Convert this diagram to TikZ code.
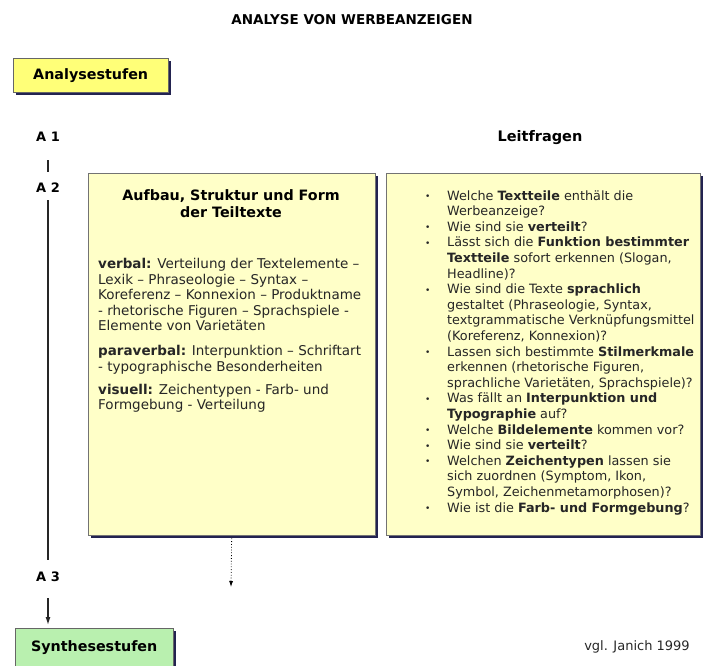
\documentclass[tikz,border=0pt]{standalone}
\usepackage{fontspec}
\setmainfont{DejaVu Sans}
\usetikzlibrary{arrows.meta,positioning,shadows}

\definecolor{stufegelb}{RGB}{255,255,120}
\definecolor{feldgelb}{RGB}{255,255,200}
\definecolor{stufegruen}{RGB}{185,240,175}
\definecolor{schatten}{RGB}{35,35,80}
\newcommand{\punkt}{\raisebox{0.6pt}{\fontsize{9}{9}\selectfont\textbullet}}

\begin{document}
\begin{tikzpicture}[x=1pt, y=-1pt, font=\fontsize{12.8}{15.6}\selectfont,
  stufe/.style={draw=black!60, anchor=north west, inner sep=0pt, font=\bfseries\fontsize{14.3}{16}\selectfont,
    drop shadow={shadow xshift=2.5pt, shadow yshift=-2.5pt, fill=schatten, opacity=1}},
  feld/.style={draw=black!55, fill=feldgelb, anchor=north west, inner sep=0pt,
    drop shadow={shadow xshift=2.5pt, shadow yshift=-2.5pt, fill=schatten, opacity=1}},
  marke/.style={font=\bfseries\fontsize{13}{15}\selectfont},
  linie/.style={line width=1.4pt, draw=black!85},
  pfeil/.style={-{Latex[length=8pt, width=5pt]}, line width=1.2pt, draw=black!85}]
  \useasboundingbox (0,0) rectangle (704,666);
  \node[font=\bfseries\fontsize{13.5}{15}\selectfont] (titel) at (352,20) {ANALYSE VON WERBEANZEIGEN};
  \node[stufe, fill=stufegelb, minimum width=155pt, minimum height=34pt] (analyse) at (13,58) {Analysestufen};
  \node[marke] (aeins) at (48,137) {A 1};
  \node[marke] (azwei) at (48,188) {A 2};
  \node[marke] (adrei) at (48,577) {A 3};
  \node[stufe, fill=stufegruen, minimum width=158pt, minimum height=38pt] (synthese) at (15,628) {Synthesestufen};
  \draw[linie, shorten <=15pt, shorten >=8pt] (aeins) -- (azwei);
  \draw[linie, line width=1.2pt, shorten <=4pt, shorten >=9pt] (azwei) -- (adrei);
  \draw[pfeil, shorten <=13pt, shorten >=3pt] (adrei) -- (adrei |- synthese.north);
  % Teiltexte
  \node[feld, minimum width=287pt, minimum height=362pt] (aufbau) at (88,173) {};
  \node[anchor=north, align=center, font=\bfseries\fontsize{14.3}{17.5}\selectfont] (aufbautitel) at (231,186) {Aufbau, Struktur und Form\\der Teiltexte};
  \node[anchor=north west, align=left, inner sep=0pt, text=black!85, font=\fontsize{13.5}{15.6}\selectfont] (aufbautext) at (98,258) {%
    \textbf{verbal:} Verteilung der Textelemente –\\
    Lexik – Phraseologie – Syntax –\\
    Koreferenz – Konnexion – Produktname\\
    - rhetorische Figuren – Sprachspiele -\\
    Elemente von Varietäten\\[9pt]
    \textbf{paraverbal:} Interpunktion – Schriftart\\
    - typographische Besonderheiten\\[7.5pt]
    \textbf{visuell:} Zeichentypen - Farb- und\\
    Formgebung - Verteilung};
  \coordinate (punktende) at (231,587);
  \draw[dotted, thick, -{Latex[length=6pt, width=4pt]}, shorten <=3pt] (aufbau.south) -- (punktende);
  % Leitfragen
  \node[font=\bfseries\fontsize{14.5}{16}\selectfont] (leitfragen) at (540,138) {Leitfragen};
  \node[feld, minimum width=314pt, minimum height=362pt] (leit) at (386,173) {};
  \node[anchor=north west, inner sep=0pt, text=black!85] (leittext) at (425,189) {%
    \begin{tabular}{@{}p{6pt}@{\hspace{16pt}}l@{}}
    \punkt & Welche \textbf{Textteile} enthält die\\
      & Werbeanzeige?\\
    \punkt & Wie sind sie \textbf{verteilt}?\\
    \punkt & Lässt sich die \textbf{Funktion bestimmter}\\
      & \textbf{Textteile} sofort erkennen (Slogan,\\
      & Headline)?\\
    \punkt & Wie sind die Texte \textbf{sprachlich}\\
      & gestaltet (Phraseologie, Syntax,\\
      & textgrammatische Verknüpfungsmittel\\
      & (Koreferenz, Konnexion)?\\
    \punkt & Lassen sich bestimmte \textbf{Stilmerkmale}\\
      & erkennen (rhetorische Figuren,\\
      & sprachliche Varietäten, Sprachspiele)?\\
    \punkt & Was fällt an \textbf{Interpunktion und}\\
      & \textbf{Typographie} auf?\\
    \punkt & Welche \textbf{Bildelemente} kommen vor?\\
    \punkt & Wie sind sie \textbf{verteilt}?\\
    \punkt & Welchen \textbf{Zeichentypen} lassen sie\\
      & sich zuordnen (Symptom, Ikon,\\
      & Symbol, Zeichenmetamorphosen)?\\
    \punkt & Wie ist die \textbf{Farb- und Formgebung}?
    \end{tabular}};
  \node[font=\fontsize{13}{15}\selectfont, text=black!85] (quelle) at (637,647) {vgl. Janich 1999};
\end{tikzpicture}
\end{document}
